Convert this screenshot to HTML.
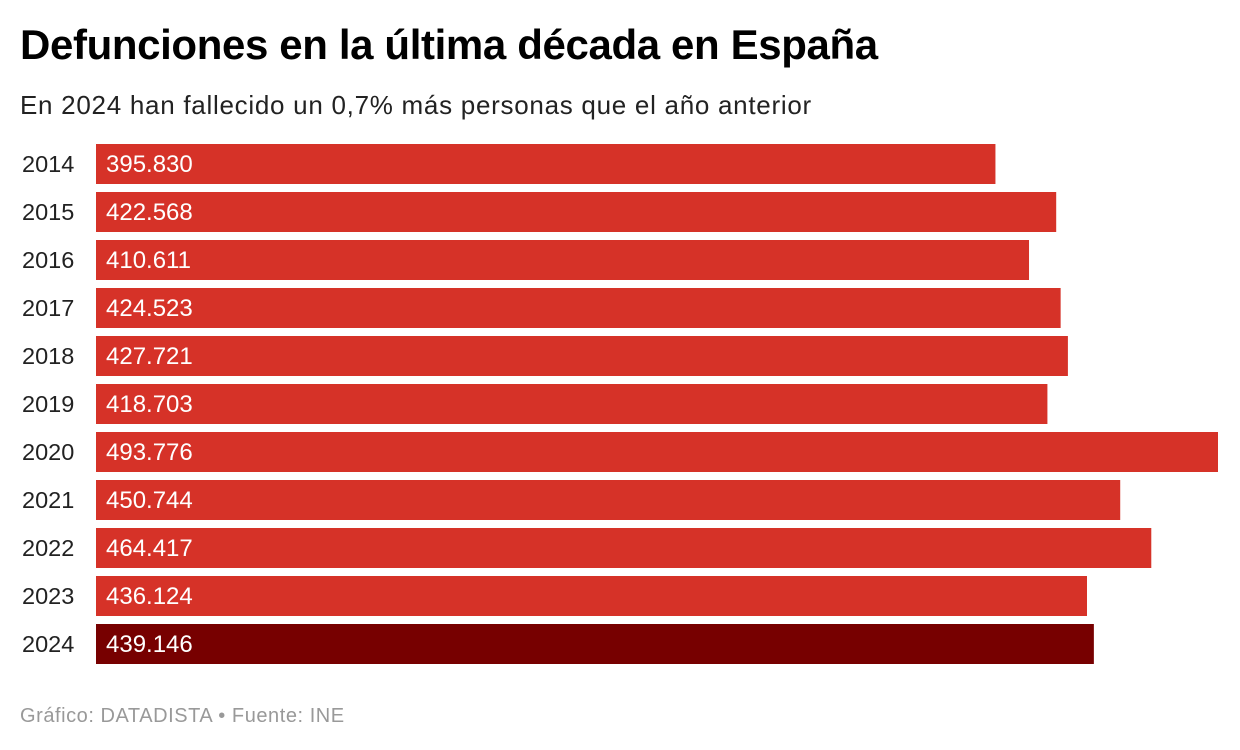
<!DOCTYPE html>
<html><head><meta charset="utf-8"><style>
body{margin:0;width:1240px;height:750px;background:#fff;font-family:"Liberation Sans",sans-serif;position:relative;overflow:hidden}
.t{position:absolute;left:20px;top:21px;font-size:42px;font-weight:bold;color:#000;letter-spacing:-0.37px}
.s{position:absolute;left:20px;top:90px;font-size:26px;color:#222;letter-spacing:0.72px}
.f{position:absolute;left:20px;top:705px;font-size:20px;color:#999;letter-spacing:0.55px}
</style></head><body>
<div class="t">Defunciones en la última década en España</div>
<div class="s">En 2024 han fallecido un 0,7% más personas que el año anterior</div>
<svg id="c" width="1240" height="750" style="position:absolute;left:0;top:0"></svg>
<div class="f">Gráfico: DATADISTA • Fuente: INE</div>
<script>
const years=["2014","2015","2016","2017","2018","2019","2020","2021","2022","2023","2024"];
const deaths=[395830,422568,410611,424523,427721,418703,493776,450744,464417,436124,439146];
const labels=["395.830","422.568","410.611","424.523","427.721","418.703","493.776","450.744","464.417","436.124","439.146"];
const svg=document.getElementById('c');const NS='http://www.w3.org/2000/svg';
const x0=96,xw=1122,maxV=Math.max(...deaths);
const x=v=>v/maxV*xw;
const y=i=>144+i*48;
years.forEach((yr,i)=>{
 const r=document.createElementNS(NS,'rect');
 r.setAttribute('x',x0);r.setAttribute('y',y(i));r.setAttribute('width',x(deaths[i]));r.setAttribute('height',40);
 r.setAttribute('fill',i===years.length-1?'#770000':'#d63228');
 
 
 svg.appendChild(r);
 const t=document.createElementNS(NS,'text');
 t.setAttribute('x',22);t.setAttribute('y',y(i)+28);t.setAttribute('font-size','23.5');t.setAttribute('fill','#222');t.textContent=yr;
 
 
 svg.appendChild(t);
 const v=document.createElementNS(NS,'text');
 v.setAttribute('x',106);v.setAttribute('y',y(i)+28);v.setAttribute('font-size','24');v.setAttribute('fill','#fff');v.textContent=labels[i];
 
 
 svg.appendChild(v);
});
</script>
</body></html>
